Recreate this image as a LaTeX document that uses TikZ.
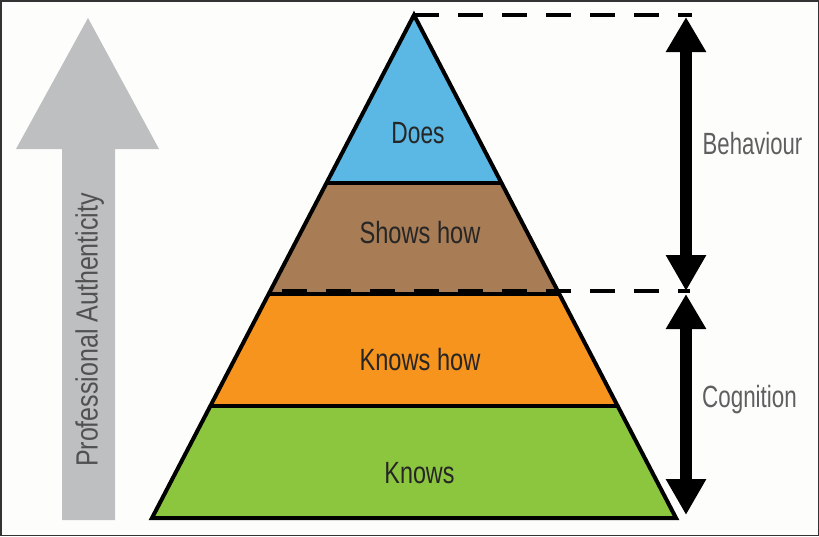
\documentclass[tikz,border=0pt]{standalone}
\usepackage{fontspec}
\setmainfont{Liberation Sans}
\usetikzlibrary{calc,arrows.meta}
\definecolor{bg}{HTML}{FDFDFB}
\definecolor{doesc}{HTML}{5BB7E3}
\definecolor{showsc}{HTML}{A87C55}
\definecolor{knowshowc}{HTML}{F7941E}
\definecolor{knowsc}{HTML}{8CC63F}
\definecolor{grayarrow}{HTML}{BEBFC1}
\definecolor{labeltext}{HTML}{262626}
\definecolor{sidetext}{HTML}{5F5F5F}
\begin{document}
\begin{tikzpicture}[x=1pt,y=-1pt,
  layertext/.style={anchor=base,inner sep=0pt,text=labeltext,font=\fontsize{30.7}{32}\selectfont},
  sidelabel/.style={anchor=base,inner sep=0pt,text=sidetext,font=\fontsize{30.7}{32}\selectfont},
  boundary/.style={line width=4pt},
  dashline/.style={line width=4pt,dash pattern=on 24.5pt off 19.5pt},
  bigarrow/.style={line width=12pt,-{Triangle[width=38pt,length=36pt]}},
  dblarrow/.style={line width=12pt,{Triangle[width=38pt,length=36pt]}-{Triangle[width=38pt,length=35pt]}}]
\fill[bg] (0,0) rectangle (819,536);
\useasboundingbox (0,0) rectangle (819,536);
% pyramid corners
\coordinate (A) at (414,15);
\coordinate (BL) at (152,518);
\coordinate (BR) at (676,518);
\coordinate (L1) at ($(A)!0.334!(BL)$);
\coordinate (R1) at ($(A)!0.334!(BR)$);
\coordinate (L2) at ($(A)!0.5527!(BL)$);
\coordinate (R2) at ($(A)!0.5527!(BR)$);
\coordinate (L3) at ($(A)!0.7773!(BL)$);
\coordinate (R3) at ($(A)!0.7773!(BR)$);
% layers
\fill[doesc] (A) -- (R1) -- (L1) -- cycle;
\fill[showsc] (L1) -- (R1) -- (R2) -- (L2) -- cycle;
\fill[knowshowc] (L2) -- (R2) -- (R3) -- (L3) -- cycle;
\fill[knowsc] (L3) -- (R3) -- (BR) -- (BL) -- cycle;
\draw[boundary] (L1) -- (R1);
\draw[boundary] ($(L2)+(0,1)$) -- ($(R2)+(0,1)$);
\draw[boundary] (L3) -- (R3);
\draw[boundary,line join=miter] (A) -- (BR) -- (BL) -- cycle;
% dashed guides
\coordinate (topend) at (692,15);
\coordinate (midstart) at (270,291);
\coordinate (midend) at (690,291);
\draw[dashline] (A) -- (topend);
\draw[dashline,dash phase=32pt] (midstart) -- (midend);
% double arrows
\coordinate (b1) at (686,17);
\coordinate (b2) at (686,291);
\coordinate (c1) at (686,294);
\coordinate (c2) at (686,515);
\draw[dblarrow] (b2) -- (b1);
\draw[dblarrow] (c2) -- (c1);
\node[sidelabel] (beh) at (752.5,154.3) {\scalebox{0.72}[1]{Behaviour}};
\node[sidelabel] (cog) at (749.5,407.5) {\scalebox{0.73}[1]{Cognition}};
% grey arrow
\fill[grayarrow] (62,520) -- (62,149) -- (16,149) -- (88,18) -- (159,149) -- (115,149) -- (115,520) -- cycle;
\node[anchor=base,inner sep=0pt,rotate=90,text=sidetext!85!black,font=\fontsize{30.7}{32}\selectfont] (pa) at (97.5,330) {\scalebox{0.815}[1]{Professional Authenticity}};
% layer labels
\node[layertext] (does) at (418,143) {\scalebox{0.74}[1]{Does}};
\node[layertext] (shows) at (420,243) {\scalebox{0.77}[1]{Shows how}};
\node[layertext] (knowshow) at (420,370) {\scalebox{0.77}[1]{Knows how}};
\node[layertext] (knows) at (419.5,483) {\scalebox{0.76}[1]{Knows}};
% frame
\draw[line width=1.5pt,draw=black!80] (0.75,0.75) rectangle (818.25,535.25);
\end{tikzpicture}
\end{document}
